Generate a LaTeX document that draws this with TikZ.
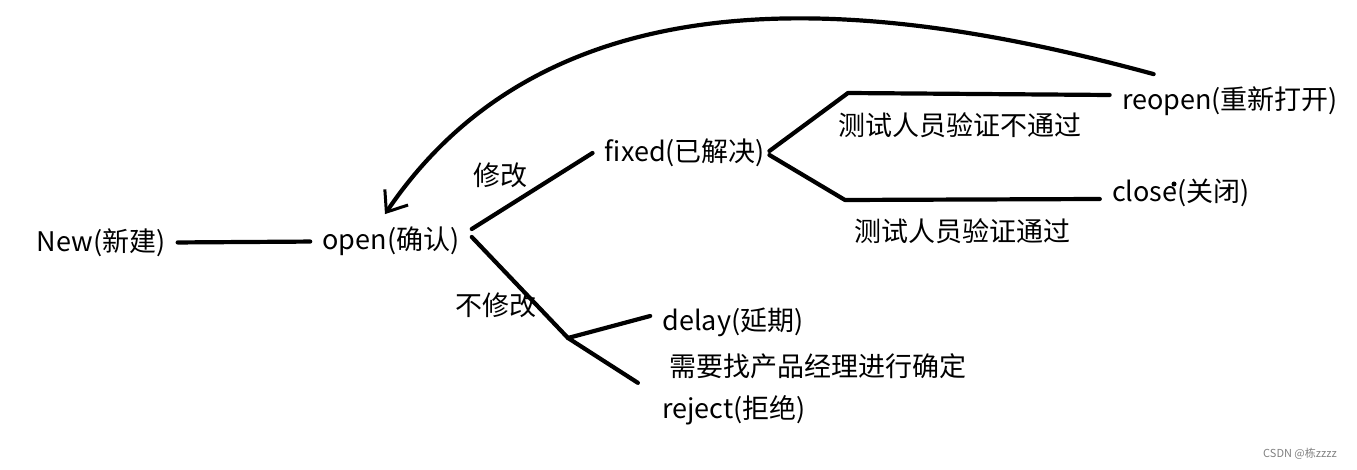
\documentclass[tikz,border=0pt]{standalone}
\usepackage{fontspec}
\setmainfont{Noto Sans CJK SC}
\usetikzlibrary{positioning,arrows.meta}

\begin{document}
\begin{tikzpicture}[x=0.5pt,y=-0.5pt,
            state/.style={inner sep=6pt, font=\fontsize{13.5}{16}\selectfont},
            tag/.style={inner sep=0pt, font=\fontsize{13.5}{16}\selectfont},
            handline/.style={line width=2.1pt, line cap=round, line join=round},
        ]
            \useasboundingbox (0,0) rectangle (1357,470);

            % states
            \node [state] (new)     at (101,243)  {New(新建)};
            \node [state] (open)    at (391,241)  {open(确认)};
            \node [state] (fixed)   at (685,153)  {fixed(已解决)};
            \node [state] (reopen)  at (1230,101) {reopen(重新打开)};
            \node [state] (close)   at (1181,193) {close(关闭)};
            \node [state] (delay)   at (733,322)  {delay(延期)};
            \node [state] (reject)  at (734,410)  {reject(拒绝)};

            % labels
            \node [tag] (modify)    at (500,175)  {修改};
            \node [tag] (nomodify)  at (496,305)  {不修改};
            \node [tag] (failtest)  at (960,125)  {测试人员验证不通过};
            \node [tag] (passtest)  at (962,231)  {测试人员验证通过};
            \node [tag] (pmnote)    at (818,366)  {需要找产品经理进行确定};
            \node [inner sep=0pt, text=gray, font=\fontsize{5.5}{7}\selectfont] (mark) at (1300,454) {CSDN @栋zzzz};

            \coordinate (fork)    at (568,338);
            \coordinate (upbend)  at (848,93);
            \coordinate (lowbend) at (845,200);

            \draw[handline] (new) -- (open);
            \draw[handline] ([yshift=6pt]open.east) -- (fixed.west);
            \draw[handline] ([yshift=2pt]open.east) -- (fork);
            \draw[handline] (fork) -- ([yshift=3pt]delay.west);
            \draw[handline] (fork) -- ([xshift=-6pt]reject.north west);
            \draw[handline] ([xshift=-4pt,yshift=1pt]fixed.east) -- (upbend) -- ([yshift=3pt]reopen.west);
            \draw[handline] ([xshift=-4pt,yshift=-1pt]fixed.east) -- (lowbend) -- ([yshift=-3pt]close.west);
            \draw[handline, -{Straight Barb[length=9pt,width=14pt,line width=1.5pt]}]
                ([xshift=22pt]reopen.north west) .. controls (900,5) and (560,-45) .. ([xshift=-3pt]open.north);

            \fill (1174,184) circle (2.5);

        \end{tikzpicture}
\end{document}
